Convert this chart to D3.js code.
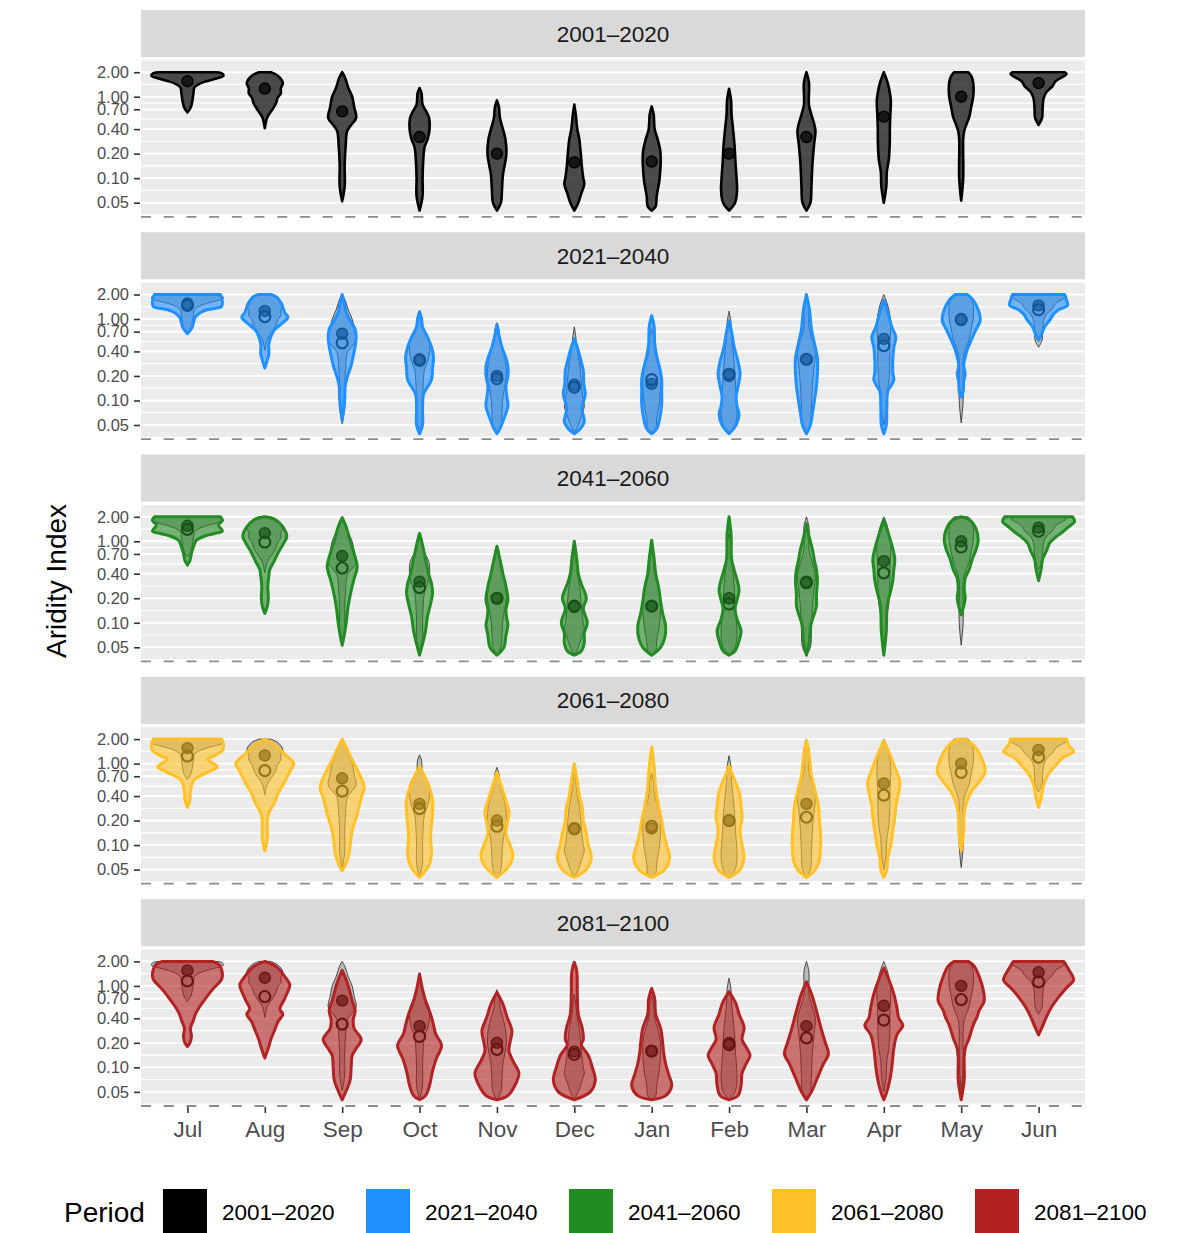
<!DOCTYPE html>
<html><head><meta charset="utf-8">
<script src="https://cdn.jsdelivr.net/npm/d3@7"></script>
<style>body{margin:0;background:#fff;} svg{display:block;font-family:"Liberation Sans",Arial,Helvetica,sans-serif;}</style>
</head><body><svg id="chart" width="1196" height="1233"></svg>
<script>
const months = ["Jul","Aug","Sep","Oct","Nov","Dec","Jan","Feb","Mar","Apr","May","Jun"];
const periods = ["2001–2020","2021–2040","2041–2060","2061–2080","2081–2100"];
const periodColors = ["#000000","#1E90FF","#228B22","#FFC125","#B22222"];
const yTickValues = [0.05,0.10,0.20,0.40,0.70,1.00,2.00];

// medians per month (Aridity Index)
const median2001 = [1.55,1.26,0.66,0.32,0.20,0.156,0.16,0.20,0.32,0.57,1.00,1.47];
const median2021 = [1.47,1.07,0.51,0.31,0.185,0.146,0.18,0.21,0.32,0.47,0.98,1.30];
const median2041 = [1.40,0.98,0.47,0.27,0.20,0.16,0.16,0.17,0.31,0.41,0.85,1.33];
const median2061 = [1.24,0.82,0.46,0.28,0.17,0.16,0.17,0.20,0.22,0.41,0.78,1.20];
const median2081 = [1.15,0.74,0.34,0.24,0.166,0.144,0.158,0.19,0.23,0.38,0.68,1.12];

// violin profiles: [aridity index, relative density] from top to bottom
const violins2001 = [
 [[2.0,28],[1.95,34],[1.8,36],[1.66,28],[1.55,19],[1.42,11],[1.3,7],[1.1,6],[0.9,5],[0.75,3.5],[0.64,0]],
 [[2.0,6],[1.85,12],[1.6,17],[1.45,18],[1.27,16],[1.1,16],[0.98,13],[0.82,11],[0.68,7],[0.56,2.5],[0.41,0]],
 [[2.0,0],[1.7,3],[1.3,6],[1.0,10],[0.75,12],[0.55,14],[0.45,9],[0.38,5],[0.25,3.5],[0.15,2.5],[0.08,2.5],[0.052,0]],
 [[1.28,0],[1.1,2],[0.8,3],[0.65,7],[0.55,9.5],[0.4,10],[0.3,8],[0.24,5],[0.15,3.5],[0.1,3],[0.06,3],[0.04,0]],
 [[0.9,0],[0.75,2],[0.55,3],[0.4,6],[0.3,8.5],[0.2,9.5],[0.15,8],[0.11,6],[0.07,5],[0.05,4],[0.04,0]],
 [[0.8,0],[0.6,1.5],[0.4,3],[0.3,5],[0.2,6.5],[0.14,7.5],[0.1,9],[0.085,10],[0.065,7],[0.05,4],[0.04,0]],
 [[0.76,0],[0.6,2],[0.4,3],[0.3,6],[0.22,8.5],[0.16,9],[0.12,8.5],[0.09,7.5],[0.06,5],[0.045,4],[0.04,0]],
 [[1.25,0],[0.9,2],[0.6,2.5],[0.4,4],[0.25,5.5],[0.15,6.5],[0.1,7.5],[0.07,8],[0.05,6],[0.04,0]],
 [[2.0,0],[1.5,2.5],[0.8,2.5],[0.6,5],[0.45,8],[0.38,9],[0.25,7.5],[0.15,6],[0.08,5],[0.05,4],[0.04,0]],
 [[2.0,0],[1.6,3],[1.3,5],[0.9,7],[0.6,6.5],[0.4,6],[0.29,6],[0.17,5],[0.12,3],[0.08,2.5],[0.05,0]],
 [[2.0,7],[1.8,10],[1.5,12],[1.0,12],[0.75,10],[0.56,8],[0.45,5],[0.38,3],[0.3,2],[0.1,2],[0.053,0]],
 [[2.0,26],[1.9,28],[1.75,24],[1.55,17],[1.35,14],[1.15,8],[0.95,5],[0.7,4],[0.55,3.5],[0.45,0]]
];
const violins2021 = [
 [[2.0,33],[1.85,34],[1.6,35],[1.42,34],[1.32,22],[1.22,14],[1.06,8],[0.9,6],[0.78,4.5],[0.66,0]],
 [[2.0,6],[1.85,12],[1.5,17],[1.2,20],[1.05,23],[0.9,18],[0.72,9],[0.6,6],[0.49,4],[0.37,4],[0.3,2],[0.25,0]],
 [[2.0,0],[1.6,2],[1.2,4],[0.96,8],[0.75,13],[0.6,14],[0.46,13],[0.35,11],[0.27,9],[0.21,6],[0.15,3],[0.1,2.5],[0.057,0]],
 [[1.22,0],[1.0,2],[0.8,3],[0.6,8],[0.45,12],[0.34,14],[0.25,13],[0.18,12],[0.14,7],[0.12,4],[0.08,3],[0.05,3],[0.039,0]],
 [[0.85,0],[0.6,2.5],[0.45,5],[0.33,9],[0.26,11],[0.2,11],[0.15,9],[0.11,10],[0.085,11],[0.06,7],[0.045,3],[0.039,0]],
 [[0.57,0],[0.45,3],[0.33,6],[0.23,9],[0.16,9.5],[0.12,11],[0.095,9],[0.08,7.5],[0.065,9],[0.055,10],[0.045,6],[0.039,0]],
 [[1.1,0],[0.8,2.5],[0.5,3],[0.35,5],[0.25,8],[0.18,10],[0.13,10],[0.09,10],[0.06,8],[0.045,5],[0.039,0]],
 [[0.95,0],[0.7,2.5],[0.46,5],[0.3,9],[0.21,11],[0.15,9],[0.11,7],[0.085,8],[0.068,10],[0.05,7],[0.039,0]],
 [[2.0,0],[1.3,3],[0.75,5],[0.5,8],[0.33,11],[0.22,11],[0.15,10],[0.1,8],[0.07,6],[0.05,4],[0.039,0]],
 [[1.7,0],[1.2,4],[0.8,8],[0.6,12],[0.45,10],[0.31,9],[0.22,9],[0.18,10],[0.15,7],[0.13,4],[0.08,3],[0.05,2.5],[0.039,0]],
 [[2.0,6],[1.7,12],[1.3,17],[0.96,19],[0.75,15],[0.55,10],[0.42,6],[0.34,4],[0.27,2.5],[0.21,4],[0.17,2.5],[0.13,2],[0.11,0]],
 [[2.0,26],[1.7,28],[1.47,29],[1.3,20],[1.15,15],[0.96,11],[0.8,6],[0.65,3],[0.55,0]]
];
const violins2041 = [
 [[2.0,33],[1.81,35],[1.58,31],[1.34,35],[1.25,28],[1.18,19],[1.03,9],[0.85,6],[0.71,4],[0.58,2.5],[0.51,0]],
 [[2.0,0],[1.85,10],[1.5,18],[1.15,22],[0.95,19],[0.75,14],[0.56,9],[0.45,5],[0.37,4],[0.28,3],[0.2,3.5],[0.16,2.5],[0.13,0]],
 [[1.95,0],[1.5,4],[1.0,8],[0.7,12],[0.48,15],[0.35,12],[0.25,9],[0.16,6],[0.1,4],[0.07,2],[0.053,0]],
 [[1.25,0],[0.9,3],[0.6,6],[0.4,9],[0.3,12],[0.23,13],[0.17,11],[0.12,8],[0.08,6],[0.055,3],[0.04,0]],
 [[0.87,0],[0.6,3],[0.4,6],[0.28,9],[0.19,11],[0.145,9],[0.11,10],[0.095,11],[0.07,9],[0.05,7],[0.04,0]],
 [[1.0,0],[0.6,2.5],[0.4,4],[0.3,7],[0.2,12],[0.15,9],[0.1,13],[0.075,10],[0.057,10],[0.045,7],[0.04,0]],
 [[1.03,0],[0.6,2.5],[0.4,4],[0.27,7],[0.18,9],[0.13,11],[0.09,14],[0.065,13],[0.05,9],[0.04,0]],
 [[2.0,0],[1.2,2],[0.6,2.5],[0.45,5],[0.3,9],[0.25,10],[0.19,8],[0.15,6],[0.11,8],[0.08,12],[0.06,10],[0.045,6],[0.04,0]],
 [[1.65,0],[1.1,3],[0.8,6],[0.58,8],[0.45,10],[0.33,11],[0.22,10],[0.16,10],[0.12,7],[0.09,4],[0.06,3],[0.04,0]],
 [[1.85,0],[1.3,4],[0.9,8],[0.6,11],[0.45,10],[0.33,9],[0.25,7],[0.18,4],[0.14,3],[0.08,2.5],[0.04,0]],
 [[2.0,0],[1.8,9],[1.4,15],[1.03,17],[0.8,15],[0.6,11],[0.45,8],[0.35,4],[0.26,3],[0.2,4],[0.16,2.5],[0.125,0]],
 [[2.0,34],[1.75,36],[1.5,30],[1.3,24],[1.15,18],[0.95,11],[0.77,8],[0.6,4],[0.45,2.5],[0.33,0]]
];
const violins2061 = [
 [[2.0,34],[1.75,36],[1.45,35],[1.25,27],[1.12,20],[1.0,26],[0.91,30],[0.8,22],[0.7,12],[0.62,6],[0.45,3],[0.36,2.5],[0.29,0]],
 [[2.0,0],[1.7,10],[1.3,20],[1.0,29],[0.8,25],[0.6,20],[0.45,14],[0.32,9],[0.25,4],[0.2,2.5],[0.12,2.5],[0.085,0]],
 [[2.0,0],[1.5,5],[1.1,10],[0.8,16],[0.51,22],[0.38,19],[0.24,15],[0.15,10],[0.1,8],[0.08,7],[0.06,4],[0.048,0]],
 [[0.93,0],[0.7,5],[0.5,10],[0.36,13],[0.25,13],[0.18,12],[0.12,11],[0.08,12],[0.055,9],[0.04,0]],
 [[0.78,0],[0.55,4],[0.38,8],[0.25,12],[0.18,10],[0.14,9],[0.1,13],[0.075,16],[0.055,12],[0.04,0]],
 [[1.0,0],[0.6,3],[0.4,5],[0.29,8],[0.2,9],[0.14,12],[0.1,14],[0.07,17],[0.05,12],[0.04,0]],
 [[1.6,0],[0.9,2.5],[0.5,4],[0.3,7],[0.2,10],[0.14,12],[0.1,15],[0.07,18],[0.05,13],[0.04,0]],
 [[0.95,0],[0.7,4],[0.45,10],[0.3,12],[0.22,13],[0.15,11],[0.1,13],[0.07,15],[0.05,11],[0.04,0]],
 [[1.95,0],[1.2,3],[0.7,5],[0.5,8],[0.3,12],[0.2,13],[0.14,14],[0.09,14],[0.065,13],[0.05,9],[0.04,0]],
 [[1.9,0],[1.4,5],[0.9,11],[0.6,16],[0.45,15],[0.3,12],[0.22,11],[0.15,9],[0.1,7],[0.07,4],[0.05,3],[0.04,0]],
 [[2.0,3],[1.7,12],[1.2,20],[0.8,24],[0.6,18],[0.45,10],[0.35,6],[0.25,3],[0.15,2.5],[0.085,0]],
 [[2.0,28],[1.7,30],[1.4,35],[1.2,25],[0.95,17],[0.75,10],[0.55,5],[0.4,3],[0.29,0]]
];
const violins2081 = [
 [[2.0,25],[1.8,32],[1.4,35],[1.2,34],[0.9,25],[0.7,18],[0.55,12],[0.45,8],[0.38,6],[0.3,3],[0.24,4],[0.2,2.5],[0.18,0]],
 [[2.0,0],[1.7,12],[1.3,20],[1.03,25],[0.8,22],[0.66,19],[0.52,15],[0.45,18],[0.36,13],[0.29,10],[0.22,6],[0.18,4],[0.13,0]],
 [[1.55,0],[1.1,5],[0.66,10],[0.5,13],[0.38,11],[0.3,12],[0.22,19],[0.17,14],[0.14,10],[0.1,9],[0.07,8],[0.055,5],[0.04,0]],
 [[1.4,0],[0.9,3],[0.6,7],[0.45,11],[0.33,14],[0.26,16],[0.185,22],[0.13,17],[0.09,13],[0.06,10],[0.045,6],[0.04,0]],
 [[0.83,0],[0.6,6],[0.42,10],[0.28,15],[0.2,13],[0.16,12],[0.12,16],[0.085,22],[0.06,18],[0.045,11],[0.04,0]],
 [[1.95,0],[1.5,2.5],[0.8,3],[0.45,4],[0.3,8],[0.22,9],[0.19,7],[0.14,14],[0.1,18],[0.07,21],[0.05,16],[0.04,0]],
 [[0.93,0],[0.7,3],[0.45,4],[0.3,9],[0.2,11],[0.15,12],[0.11,14],[0.082,17],[0.06,20],[0.045,14],[0.04,0]],
 [[0.85,0],[0.6,7],[0.45,10],[0.31,15],[0.22,13],[0.17,18],[0.14,21],[0.11,17],[0.085,13],[0.06,12],[0.045,9],[0.04,0]],
 [[1.12,0],[0.8,5],[0.55,9],[0.4,12],[0.29,15],[0.2,19],[0.147,22],[0.11,17],[0.085,13],[0.065,9],[0.05,5],[0.04,0]],
 [[1.65,0],[1.2,5],[0.8,10],[0.55,13],[0.4,15],[0.33,19],[0.25,13],[0.17,10],[0.1,8],[0.07,6],[0.05,3],[0.04,0]],
 [[2.0,7],[1.75,13],[1.3,18],[0.9,22],[0.65,23],[0.5,18],[0.42,16],[0.33,12],[0.23,8],[0.17,4],[0.13,3],[0.07,3],[0.04,0]],
 [[2.0,25],[1.6,30],[1.18,35],[0.95,28],[0.73,20],[0.55,13],[0.42,8],[0.32,4],[0.25,0]]
];

const periodMedians = [median2001, median2021, median2041, median2061, median2081];
const periodViolins = [violins2001, violins2021, violins2041, violins2061, violins2081];

const svg = d3.select("#chart");
const plotLeft = 141, plotRight = 1085;
const panelPitch = 222.3, stripH = 47, panelH = 155;

const x = d3.scalePoint().domain(months).range([plotLeft, plotRight]).padding(0.6);
const dens = d3.scaleLinear().domain([0, 40]).range([0, 40 * x.step() / 77.4]);

// minor grid: midpoints (log space) between majors, plus outer ones
const logT = yTickValues.map(Math.log);
const minorValues = [];
for (let k = 0; k < logT.length - 1; k++) minorValues.push(Math.exp((logT[k] + logT[k+1]) / 2));
minorValues.push(Math.exp(logT[0] - (logT[1]-logT[0])/2));
minorValues.push(Math.exp(logT[logT.length-1] + (logT[logT.length-1]-logT[logT.length-2])/2));

periods.forEach((p, i) => {
  const stripTop = 10 + i * panelPitch;
  const top = stripTop + stripH + 3.3;
  const bottom = top + panelH;
  const y = d3.scaleLog().domain([0.035, 2.8]).range([bottom, top]);
  const g = svg.append("g");
  const color = periodColors[i];

  g.append("rect").attr("x", plotLeft).attr("y", stripTop).attr("width", plotRight - plotLeft)
    .attr("height", stripH).attr("fill", "#D9D9D9");
  g.append("text").attr("x", (plotLeft + plotRight) / 2).attr("y", stripTop + 31.5)
    .attr("text-anchor", "middle").attr("font-size", 22.5).attr("fill", "#1A1A1A").text(p);

  g.append("rect").attr("x", plotLeft).attr("y", top).attr("width", plotRight - plotLeft)
    .attr("height", panelH).attr("fill", "#EBEBEB");

  const [d0, d1] = y.domain();
  g.selectAll(".minor").data(minorValues.filter(v => v >= d0 && v <= d1)).join("line")
    .attr("x1", plotLeft).attr("x2", plotRight).attr("y1", d => y(d)).attr("y2", d => y(d))
    .attr("stroke", "#FFFFFF").attr("stroke-width", 1.2);
  g.selectAll(".major").data(yTickValues).join("line")
    .attr("x1", plotLeft).attr("x2", plotRight).attr("y1", d => y(d)).attr("y2", d => y(d))
    .attr("stroke", "#FFFFFF").attr("stroke-width", 1.9);

  // y axis
  const yAxis = d3.axisLeft(y).tickValues(yTickValues).tickFormat(d3.format(".2f")).tickSize(6).tickPadding(5);
  const ga = g.append("g").attr("transform", `translate(${plotLeft - 1},0)`).call(yAxis);
  ga.select(".domain").remove();
  ga.selectAll(".tick line").attr("stroke", "#333333").attr("stroke-width", 1.6);
  ga.selectAll(".tick text").attr("fill", "#4D4D4D").attr("font-size", 16.5)
    .attr("font-family", "'Liberation Sans',Arial,sans-serif");

  // dashed bottom line
  g.append("line").attr("x1", plotLeft).attr("x2", plotRight)
    .attr("y1", bottom + 1.5).attr("y2", bottom + 1.5)
    .attr("stroke", "#8C8C8C").attr("stroke-width", 1.8).attr("stroke-dasharray", "10,12.7");

  const area = d3.area().curve(d3.curveCatmullRom.alpha(0.5)).y(d => y(d[0]));

  months.forEach((m, j) => {
    const cx = x(m);
    area.x0(d => cx - dens(d[1])).x1(d => cx + dens(d[1]));
    // reference layer (2001–2020)
    g.append("path").attr("d", area(violins2001[j]))
      .attr("fill", "#7F7F7F").attr("fill-opacity", 0.45)
      .attr("stroke", "#1A1A1A").attr("stroke-width", 0.9).attr("stroke-opacity", 0.85);
    g.append("circle").attr("cx", cx).attr("cy", y(median2001[j])).attr("r", 5.5)
      .attr("fill", "#3A3A3A").attr("stroke", "#000").attr("stroke-width", 1.4);
    if (i > 0) {
      g.append("circle").attr("cx", cx).attr("cy", y(periodMedians[i][j])).attr("r", 5.5)
        .attr("fill", "none").attr("stroke", "#000").attr("stroke-width", 2.1);
    }
    // period violin
    g.append("path").attr("d", area(periodViolins[i][j]))
      .attr("fill", color).attr("fill-opacity", 0.6)
      .attr("stroke", color).attr("stroke-width", i === 0 ? 2.6 : 3).attr("stroke-linejoin", "round");
  });

  if (i === periods.length - 1) {
    const xAxis = d3.axisBottom(x).tickSize(6).tickPadding(8);
    const gx = g.append("g").attr("transform", `translate(0,${bottom + 2.5})`).call(xAxis);
    gx.select(".domain").remove();
    gx.selectAll(".tick line").attr("stroke", "#333333").attr("stroke-width", 1.6);
    gx.selectAll(".tick text").attr("fill", "#4D4D4D").attr("font-size", 22.5)
      .attr("font-family", "'Liberation Sans',Arial,sans-serif");
  }
});

// y axis title
svg.append("text").attr("transform", "translate(66,581) rotate(-90)")
  .attr("text-anchor", "middle").attr("font-size", 28).attr("fill", "#000").text("Aridity Index");

// legend
const legend = svg.append("g");
legend.append("text").attr("x", 64).attr("y", 1222).attr("font-size", 28).attr("fill", "#000").text("Period");
const legX = d3.scaleLinear().domain([0, 1]).range([163, 366]);
periods.forEach((p, i) => {
  legend.append("rect").attr("x", legX(i)).attr("y", 1189).attr("width", 44).attr("height", 44)
    .attr("fill", periodColors[i]);
  legend.append("text").attr("x", legX(i) + 59).attr("y", 1220).attr("font-size", 22.5)
    .attr("fill", "#000").text(p);
});
</script>
</body></html>
